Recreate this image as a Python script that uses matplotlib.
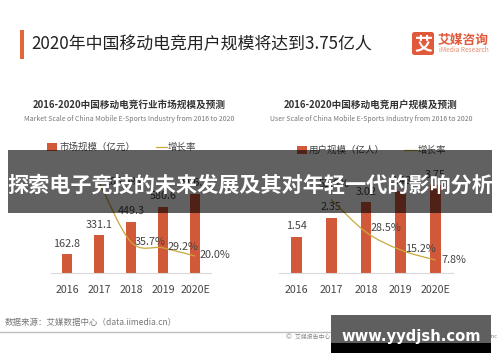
import matplotlib
matplotlib.use('Agg')
import matplotlib.pyplot as plt
from matplotlib.patches import Rectangle, FancyBboxPatch, PathPatch
from matplotlib.path import Path

plt.rcParams['font.family'] = ['Noto Sans CJK SC', 'DejaVu Sans']

years = ['2016', '2017', '2018', '2019', '2020E']

market_size = [162.8, 331.1, 449.3, 580.6, 696.7]
market_rate = [103.4, 35.7, 29.2, 20.0]
market_rate_labels = ['103.4%', '35.7%', '29.2%', '20.0%']

user_size = [1.54, 2.35, 3.02, 3.48, 3.75]
user_rate = [52.6, 28.5, 15.2, 7.8]
user_rate_labels = ['52.6%', '28.5%', '15.2%', '7.8%']

BAR = '#d2583a'
LINE = '#c9a83c'
TXT = '#444444'
W, H = 500, 362


def smooth_path(xs, ys):
    # catmull-rom style bezier through the points
    verts = [(xs[0], ys[0])]
    codes = [Path.MOVETO]
    n = len(xs)
    for i in range(n - 1):
        x0, y0 = (xs[i - 1], ys[i - 1]) if i > 0 else (xs[i], ys[i])
        x3, y3 = (xs[i + 2], ys[i + 2]) if i + 2 < n else (xs[i + 1], ys[i + 1])
        verts.append((xs[i] + (xs[i + 1] - x0) / 6, ys[i] + (ys[i + 1] - y0) / 6))
        verts.append((xs[i + 1] - (x3 - xs[i]) / 6, ys[i + 1] - (y3 - ys[i]) / 6))
        verts.append((xs[i + 1], ys[i + 1]))
        codes += [Path.CURVE4, Path.CURVE4, Path.CURVE4]
    return Path(verts, codes)


def draw_chart(fig, left, right, top, values, vmax, rate, rmin, rmax, val_fmt, rate_labels, rate_off, bar_w):
    base = 273
    ax = fig.add_axes([left / W, 1 - base / H, (right - left) / W, (base - top) / H])
    x = list(range(len(values)))
    ax.bar(x, values, width=bar_w, color=BAR, zorder=2)
    ax.set_xlim(-0.5, 4.5)
    ax.set_ylim(0, vmax)
    ax.set_yticks([])
    ax.set_xticks(x)
    ax.set_xticklabels(years, fontsize=7.6, color=TXT)
    ax.tick_params(axis='x', length=0, pad=8.5)
    for s in ['top', 'left', 'right']:
        ax.spines[s].set_visible(False)
    ax.spines['bottom'].set_color('#d9d9d9')
    ax.spines['bottom'].set_linewidth(0.8)
    ax.patch.set_alpha(0)
    for xi, v in zip(x, values):
        ax.annotate(format(v, val_fmt), (xi, v), xytext=(0, 4), textcoords='offset points',
                    ha='center', va='bottom', fontsize=7.8, color=TXT, zorder=4)

    ax2 = ax.twinx()
    ax2.set_ylim(rmin, rmax)
    ax2.set_yticks([])
    ax2.axis('off')
    xr = x[1:]
    ax2.add_patch(PathPatch(smooth_path(xr, rate), fill=False, edgecolor=LINE, linewidth=0.9, zorder=3))
    for xi, r, lab, off in zip(xr, rate, rate_labels, rate_off):
        ax2.annotate(lab, (xi, r), xytext=off, textcoords='offset points',
                     ha='left', va='center', fontsize=7.8, color=TXT, zorder=4)


fig = plt.figure(figsize=(5, 3.62), dpi=100, facecolor='white')

draw_chart(fig, 51, 211, 150, market_size, 1082, market_rate, 1, 139,
           '.1f', market_rate_labels, [(3.6, 0), (3, 0), (3, 0.5), (3, 1)], 0.31)
draw_chart(fig, 279, 453, 150, user_size, 5.25, user_rate, -1.8, 89.3,
           '.2f', user_rate_labels, [(-9, 11.5), (3, 3), (3, 1), (4, 0)], 0.31)

# page furniture, in pixel coordinates
top = fig.add_axes([0, 0, 1, 1], zorder=5)
top.set_xlim(0, W)
top.set_ylim(H, 0)
top.axis('off')
top.patch.set_alpha(0)

top.add_patch(Rectangle((20, 30), 4, 29, color='#e0673a', lw=0))
top.text(31, 44, '2020年中国移动电竞用户规模将达到3.75亿人', fontsize=12.2, color='#222222',
         ha='left', va='center')

top.add_patch(FancyBboxPatch((412, 32), 22, 23, boxstyle='round,pad=0,rounding_size=2.5',
                             facecolor='#e0593a', edgecolor='none'))
top.text(423, 43.5, '艾', fontsize=13, color='white', fontweight='bold', ha='center', va='center')
top.text(438, 40.5, '艾媒咨询', fontsize=9.2, color='#e0593a', fontweight='bold', ha='left', va='center')
top.text(439, 50.5, 'iMedia Research', fontsize=4.7, color='#e58a70', ha='left', va='center')

top.text(129, 105, '2016-2020中国移动电竞行业市场规模及预测', fontsize=6.9, color='#333333',
         fontweight='bold', ha='center', va='center')
top.text(129, 119, 'Market Scale of China Mobile E-Sports Industry from 2016 to 2020', fontsize=5.0,
         color='#777777', ha='center', va='center')
top.text(371, 105, '2016-2020中国移动电竞用户规模及预测', fontsize=6.9, color='#333333',
         fontweight='bold', ha='center', va='center')
top.text(371, 119, 'User Scale of China Mobile E-Sports Industry from 2016 to 2020', fontsize=5.0,
         color='#777777', ha='center', va='center')

# legends
top.add_patch(Rectangle((47, 143), 10, 8, color=BAR, lw=0))
top.text(59, 147, '市场规模（亿元）', fontsize=6.8, color=TXT, ha='left', va='center')
top.plot([156, 167], [147, 147], color=LINE, lw=0.9)
top.text(168, 147, '增长率', fontsize=6.8, color=TXT, ha='left', va='center')
top.add_patch(Rectangle((297, 146), 10, 8, color=BAR, lw=0))
top.text(309, 150, '用户规模（亿人）', fontsize=6.8, color=TXT, ha='left', va='center')
top.plot([404, 417], [150, 150], color=LINE, lw=0.9)
top.text(418, 150, '增长率', fontsize=6.8, color=TXT, ha='left', va='center')

# footer
top.text(5, 323, '数据来源：艾媒数据中心（data.iimedia.cn）', fontsize=6.1, color='#777777',
         ha='left', va='center')
top.plot([0, 490], [332, 332], color='#bdbdbd', lw=1)
top.text(286, 337, '©', fontsize=5, color='#777777', ha='left', va='center')
top.text(295, 337, '艾媒报告中心: report.iimedia.cn ©2020 iiMedia Research', fontsize=4.2,
         color='#888888', ha='left', va='center')
top.text(497, 337, 'Inc', fontsize=4.2, color='#888888', ha='right', va='center')

# overlay band and watermark
top.add_patch(Rectangle((8, 150), 484, 63, facecolor='black', alpha=0.62, lw=0, zorder=6))
top.text(250, 185, '探索电子竞技的未来发展及其对年轻一代的影响分析', fontsize=15.2, color='white',
         fontweight='bold', ha='center', va='center', zorder=7)
top.add_patch(Rectangle((331, 315), 160, 28, facecolor='#5f5f5f', lw=0, zorder=6))
top.add_patch(Rectangle((331, 343), 160, 10, facecolor='black', lw=0, zorder=6))
top.text(411, 337, 'www.yydjsh.com', fontsize=10.6, color='white', fontweight='bold',
         family=['DejaVu Sans'], ha='center', va='center', zorder=7)

fig.savefig('out.png', dpi=100)
